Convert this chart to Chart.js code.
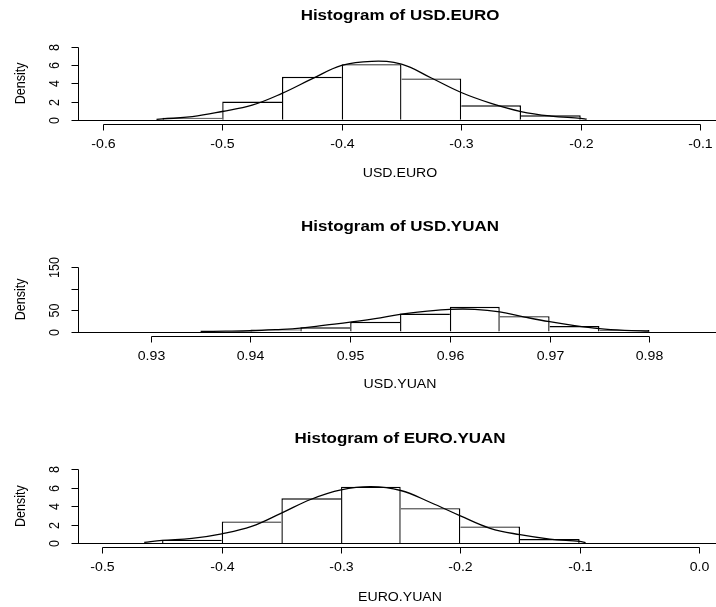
<!DOCTYPE html>
<html>
<head>
<meta charset="utf-8">
<script src="https://cdn.jsdelivr.net/npm/chart.js@4.4.1/dist/chart.umd.min.js"></script>
<style>
  html, body { margin: 0; padding: 0; background: #fff; }
  #wrap { position: relative; width: 716px; height: 607px; overflow: hidden; }
  canvas { position: absolute; left: 0; }
</style>
</head>
<body>
<div id="wrap">
  <canvas id="c1" width="716" height="200" style="top:0px"></canvas>
  <canvas id="c2" width="716" height="210" style="top:200px"></canvas>
  <canvas id="c3" width="716" height="197" style="top:410px"></canvas>
</div>
<script>
// USD.EURO
const euroBins = [-0.525, -0.475, -0.425, -0.375, -0.325, -0.275, -0.225];
const euroDensity = [0.22, 2.0, 4.74, 6.13, 4.56, 1.58, 0.48];
const euroCurveX = [-0.555, -0.55, -0.525, -0.5, -0.475, -0.45, -0.425, -0.4, -0.375, -0.35, -0.325, -0.3, -0.275, -0.25, -0.225, -0.2, -0.195];
const euroCurveY = [0.03, 0.08, 0.33, 0.9, 1.6, 2.9, 4.5, 6.0, 6.45, 6.13, 4.6, 3.0, 1.8, 0.9, 0.4, 0.15, 0.05];
const euroXTicks = [-0.6, -0.5, -0.4, -0.3, -0.2, -0.1];
const euroYTicks = [0, 2, 4, 6, 8];
const euroYLabels = ['0', '2', '4', '6', '8'];

// USD.YUAN
const yuanBins = [0.9375, 0.9425, 0.9475, 0.9525, 0.9575, 0.9625, 0.9675, 0.9725, 0.9775];
const yuanDensity = [1, 5, 10, 23, 42, 58, 36, 13, 3.5];
const yuanCurveX = [0.935, 0.9375, 0.94, 0.9425, 0.945, 0.9475, 0.95, 0.9525, 0.955, 0.9575, 0.96, 0.9625, 0.965, 0.9675, 0.97, 0.9725, 0.975, 0.9775, 0.98];
const yuanCurveY = [0.5, 1, 2, 4.5, 8, 15, 22, 30, 40, 47, 52, 52, 46, 34, 23, 14, 7, 3, 1];
const yuanXTicks = [0.93, 0.94, 0.95, 0.96, 0.97, 0.98];
const yuanYTicks = [0, 50, 100, 150];
const yuanYLabels = ['0', '50', '', '150'];

// EURO.YUAN
const eyBins = [-0.425, -0.375, -0.325, -0.275, -0.225, -0.175, -0.125];
const eyDensity = [0.36, 2.34, 4.86, 6.12, 3.78, 1.8, 0.43];
const eyCurveX = [-0.465, -0.45, -0.425, -0.4, -0.375, -0.35, -0.325, -0.3, -0.275, -0.25, -0.225, -0.2, -0.175, -0.15, -0.125, -0.1, -0.095];
const eyCurveY = [0.07, 0.28, 0.5, 1.0, 1.8, 3.24, 4.75, 5.76, 6.12, 5.7, 4.4, 2.95, 1.6, 0.9, 0.43, 0.17, 0.05];
const eyXTicks = [-0.5, -0.4, -0.3, -0.2, -0.1, 0.0];
const eyYTicks = [0, 2, 4, 6, 8];
const eyYLabels = ['0', '2', '4', '6', '8'];

const FONT = '"Liberation Sans", Arial, sans-serif';
const SX = 1.13; // the picture is a little stretched sideways

function stretchedText(ctx, txt, x, y, font, rot) {
    ctx.save();
    ctx.translate(x, y);
    ctx.scale(SX, 1);
    if (rot) ctx.rotate(rot);
    ctx.font = font;
    ctx.textAlign = 'center';
    ctx.textBaseline = 'middle';
    ctx.fillText(txt, 0, 0);
    ctx.restore();
}

// R style axes, titles and the zero line
const rAxes = {
    id: 'rAxes',
    afterDraw(chart, args, o) {
        const { ctx, chartArea: a, scales: { x, y } } = chart;
        const seg = (x1, y1, x2, y2) => { ctx.beginPath(); ctx.moveTo(x1, y1); ctx.lineTo(x2, y2); ctx.stroke(); };
        ctx.save();
        ctx.strokeStyle = '#000';
        ctx.fillStyle = '#000';
        ctx.lineWidth = 1;

        const y0 = Math.round(y.getPixelForValue(0)) + 0.5;
        seg(a.left, y0, a.right, y0);

        // x axis
        const xb = Math.round(a.bottom) + 0.5;
        const xs = o.xTicks.map(v => Math.round(x.getPixelForValue(v)) + 0.5);
        seg(xs[0], xb, xs[xs.length - 1], xb);
        xs.forEach((px, i) => {
            seg(px, xb, px, xb + 6);
            stretchedText(ctx, o.xTicks[i].toFixed(o.digits), px, a.bottom + o.labelGap, '12.5px ' + FONT);
        });

        // y axis
        const xl = Math.round(a.left) + 0.5;
        const ys = o.yTicks.map(v => Math.round(y.getPixelForValue(v)) + 0.5);
        seg(xl, ys[0], xl, ys[ys.length - 1]);
        ys.forEach((py, i) => {
            seg(xl - 7, py, xl, py);
            if (o.yLabels[i]) stretchedText(ctx, o.yLabels[i], 55, py, '12.5px ' + FONT, -Math.PI / 2);
        });

        const midY = (y.getPixelForValue(o.yTicks[0]) + y.getPixelForValue(o.yTicks[o.yTicks.length - 1])) / 2;
        stretchedText(ctx, 'Density', 21, midY, '12.5px ' + FONT, -Math.PI / 2);

        stretchedText(ctx, o.title, 400, o.titleY, 'bold 15px ' + FONT);
        stretchedText(ctx, o.xTitle, 400, a.bottom + o.xTitleGap, '12.5px ' + FONT);
        ctx.restore();
    }
};

// shared edges are drawn once, by the taller bar
function edgeWidth(c) {
    const w = 1.4;
    if (c.type !== 'data') return w;
    const d = c.dataset.data, i = c.dataIndex, v = d[i].y;
    const left = (i === 0 || d[i - 1].y <= v) ? w : 0;
    const right = (i === d.length - 1 || d[i + 1].y < v) ? w : 0;
    return { top: w, left: left, right: right, bottom: 0 };
}

function histogram(id, bins, dens, cx, cy, xr, yr, pad, axes) {
    return new Chart(document.getElementById(id), {
        type: 'bar',
        data: {
            datasets: [
                {
                    type: 'line',
                    data: cx.map((v, i) => ({ x: v, y: cy[i] })),
                    borderColor: '#000',
                    borderWidth: 1.3,
                    pointRadius: 0,
                    tension: 0.4,
                    order: 0
                },
                {
                    data: bins.map((v, i) => ({ x: v, y: dens[i] })),
                    backgroundColor: '#fff',
                    borderColor: '#000',
                    borderWidth: edgeWidth,
                    borderSkipped: 'start',
                    inflateAmount: 0,
                    barPercentage: 1,
                    categoryPercentage: 1,
                    order: 1
                }
            ]
        },
        options: {
            responsive: false,
            animation: false,
            events: [],
            layout: { padding: pad },
            scales: {
                x: { type: 'linear', min: xr[0], max: xr[1], offset: false, display: false },
                y: { type: 'linear', min: yr[0], max: yr[1], display: false }
            },
            plugins: {
                legend: { display: false },
                tooltip: { enabled: false },
                rAxes: axes
            }
        },
        plugins: [rAxes]
    });
}

histogram('c1', euroBins, euroDensity, euroCurveX, euroCurveY,
    [-0.6207, -0.0868], [-0.48, 8.36],
    { left: 78, right: 0, top: 44, bottom: 76 },
    { xTicks: euroXTicks, yTicks: euroYTicks, yLabels: euroYLabels, digits: 1,
      title: 'Histogram of USD.EURO', xTitle: 'USD.EURO', titleY: 16, labelGap: 21, xTitleGap: 50 });

histogram('c2', yuanBins, yuanDensity, yuanCurveX, yuanCurveY,
    [0.9227, 0.98669], [-10.3, 155.4],
    { left: 78, right: 0, top: 65, bottom: 74 },
    { xTicks: yuanXTicks, yTicks: yuanYTicks, yLabels: yuanYLabels, digits: 2,
      title: 'Histogram of USD.YUAN', xTitle: 'USD.YUAN', titleY: 27, labelGap: 21, xTitleGap: 49 });

histogram('c3', eyBins, eyDensity, eyCurveX, eyCurveY,
    [-0.5205, 0.0143], [-0.434, 8.36],
    { left: 78, right: 0, top: 56, bottom: 60 },
    { xTicks: eyXTicks, yTicks: eyYTicks, yLabels: eyYLabels, digits: 1,
      title: 'Histogram of EURO.YUAN', xTitle: 'EURO.YUAN', titleY: 29, labelGap: 21, xTitleGap: 51 });
</script>
</body>
</html>
